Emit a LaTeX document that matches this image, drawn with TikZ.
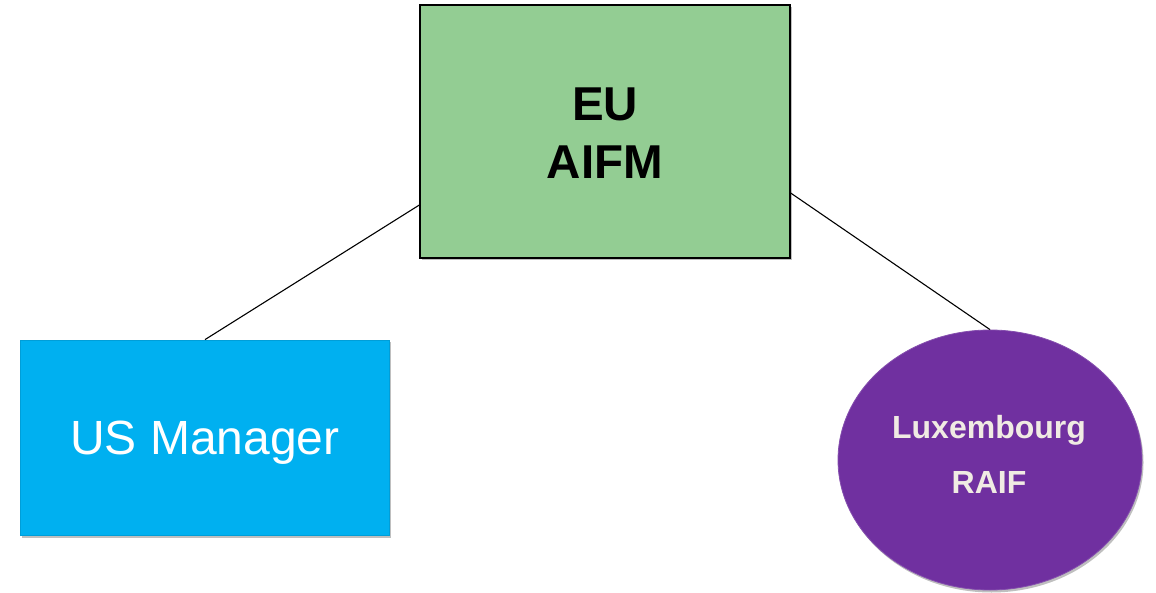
\documentclass[tikz,border=0pt]{standalone}
\usepackage{fontspec}
\setmainfont{Liberation Sans}
\usetikzlibrary{shapes.geometric,shadows}
\definecolor{aifmgreen}{HTML}{93CD93}
\definecolor{usblue}{HTML}{00B0F0}
\definecolor{raifpurple}{HTML}{7030A0}
\definecolor{raiftext}{HTML}{F0EBE3}
\tikzset{
  boxshadow/.style={drop shadow={shadow xshift=1.5pt,shadow yshift=-2.5pt,fill=black,opacity=0.25}},
  link/.style={draw=black,line width=1.1pt}
}
\begin{document}
\begin{tikzpicture}[x=1pt,y=-1pt]
\useasboundingbox (0,0) rectangle (1156,593);
\node (aifm) [boxshadow,draw=black,line width=1.3pt,fill=aifmgreen,minimum width=370pt,minimum height=253pt,inner sep=0pt,anchor=center]
  at (605,131.5) {};
\node (aifmtxt) at (605,133) [align=center,font=\fontsize{47.5}{58}\selectfont\bfseries] {EU\\AIFM};
\node (us) [boxshadow,fill=usblue,draw=usblue!90!black,line width=0.8pt,minimum width=369pt,minimum height=195pt,inner sep=0pt]
  at (204.5,437.5) {};
\node (ustxt) at (205,443) [text=white,font=\fontsize{48}{56}\selectfont] {US Manager};
\node (raif) [ellipse,boxshadow,fill=raifpurple,draw=raifpurple!85!white,line width=0.8pt,minimum width=304pt,minimum height=260pt,inner sep=0pt]
  at (990,460) {};
\node (raiftxt) at (989,454) [align=center,text=raiftext,font=\fontsize{32}{55}\selectfont\bfseries] {Luxembourg\\RAIF};
\draw[link] (aifm.west |- 0,205) -- (us.north -| 205,0);
\draw[link] (aifm.east |- 0,193) -- (raif.north);
\end{tikzpicture}
\end{document}
